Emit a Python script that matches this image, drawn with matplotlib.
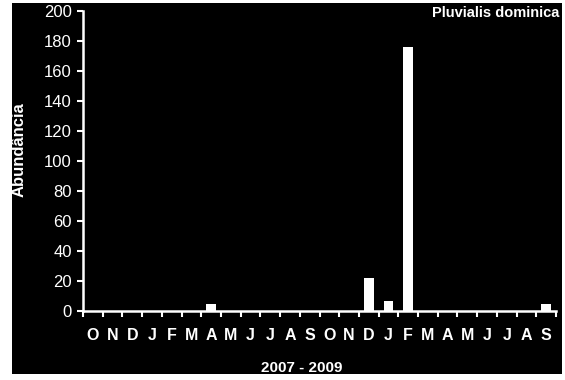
import matplotlib
matplotlib.use("Agg")
import matplotlib.pyplot as plt
from matplotlib.patches import Rectangle
import numpy as np

plt.rcParams['font.family'] = ['Liberation Sans', 'DejaVu Sans']

months = ["O", "N", "D", "J", "F", "M", "A", "M", "J", "J", "A", "S",
          "O", "N", "D", "J", "F", "M", "A", "M", "J", "J", "A", "S"]
abundance = [0, 0, 0, 0, 0, 0, 5, 0, 0, 0, 0, 0,
             0, 0, 22, 7, 176, 0, 0, 0, 0, 0, 0, 5]
yticks = list(range(0, 201, 20))

W, H = 565, 380
fig = plt.figure(figsize=(W / 100, H / 100), dpi=100, facecolor="white")
# black panel behind the chart
fig.patches.append(Rectangle((12 / W, 1 - 374 / H), (562 - 12) / W, (374 - 3) / H,
                             transform=fig.transFigure, facecolor="black",
                             edgecolor="none", zorder=-10))

ax = fig.add_axes([83 / W, 1 - 311 / H, (556 - 83) / W, 300 / H])
ax.patch.set_visible(False)
ax.set_zorder(5)

x = np.arange(len(months))
ax.bar(x, abundance, width=0.5, color="white", zorder=3)

ax.set_xlim(-0.5, len(months) - 0.5)
ax.set_ylim(0, 200)
ax.set_yticks(yticks)
ax.set_yticklabels([str(v) for v in yticks], fontsize=12, color="white")

ax.set_xticks(x)
ax.set_xticklabels(months, fontsize=11.5, fontweight="bold", color="white")
ax.tick_params(axis="x", length=0, pad=12)
ax.set_xticks(np.arange(-0.5, len(months)), minor=True)
ax.tick_params(axis="x", which="minor", length=4, width=1.5, color="white",
               direction="out")
ax.tick_params(axis="y", length=4, width=1.5, color="white", direction="out", pad=4)

for side in ("top", "right"):
    ax.spines[side].set_visible(False)
for side in ("left", "bottom"):
    ax.spines[side].set_color("white")
    ax.spines[side].set_linewidth(1.8)

fig.text(19 / W, 1 - 150 / H, "Abundância", rotation=90, ha="center", va="center",
         fontsize=12, fontweight="bold", color="white", zorder=10)
fig.text(302 / W, 1 - 368 / H, "2007 - 2009", ha="center", va="center",
         fontsize=11, fontweight="bold", color="white", zorder=10)
fig.text(559 / W, 1 - 13 / H, "Pluvialis dominica", ha="right", va="center",
         fontsize=10.5, fontweight="bold", color="white", zorder=10)

fig.savefig("out.png", dpi=100, facecolor="white")
